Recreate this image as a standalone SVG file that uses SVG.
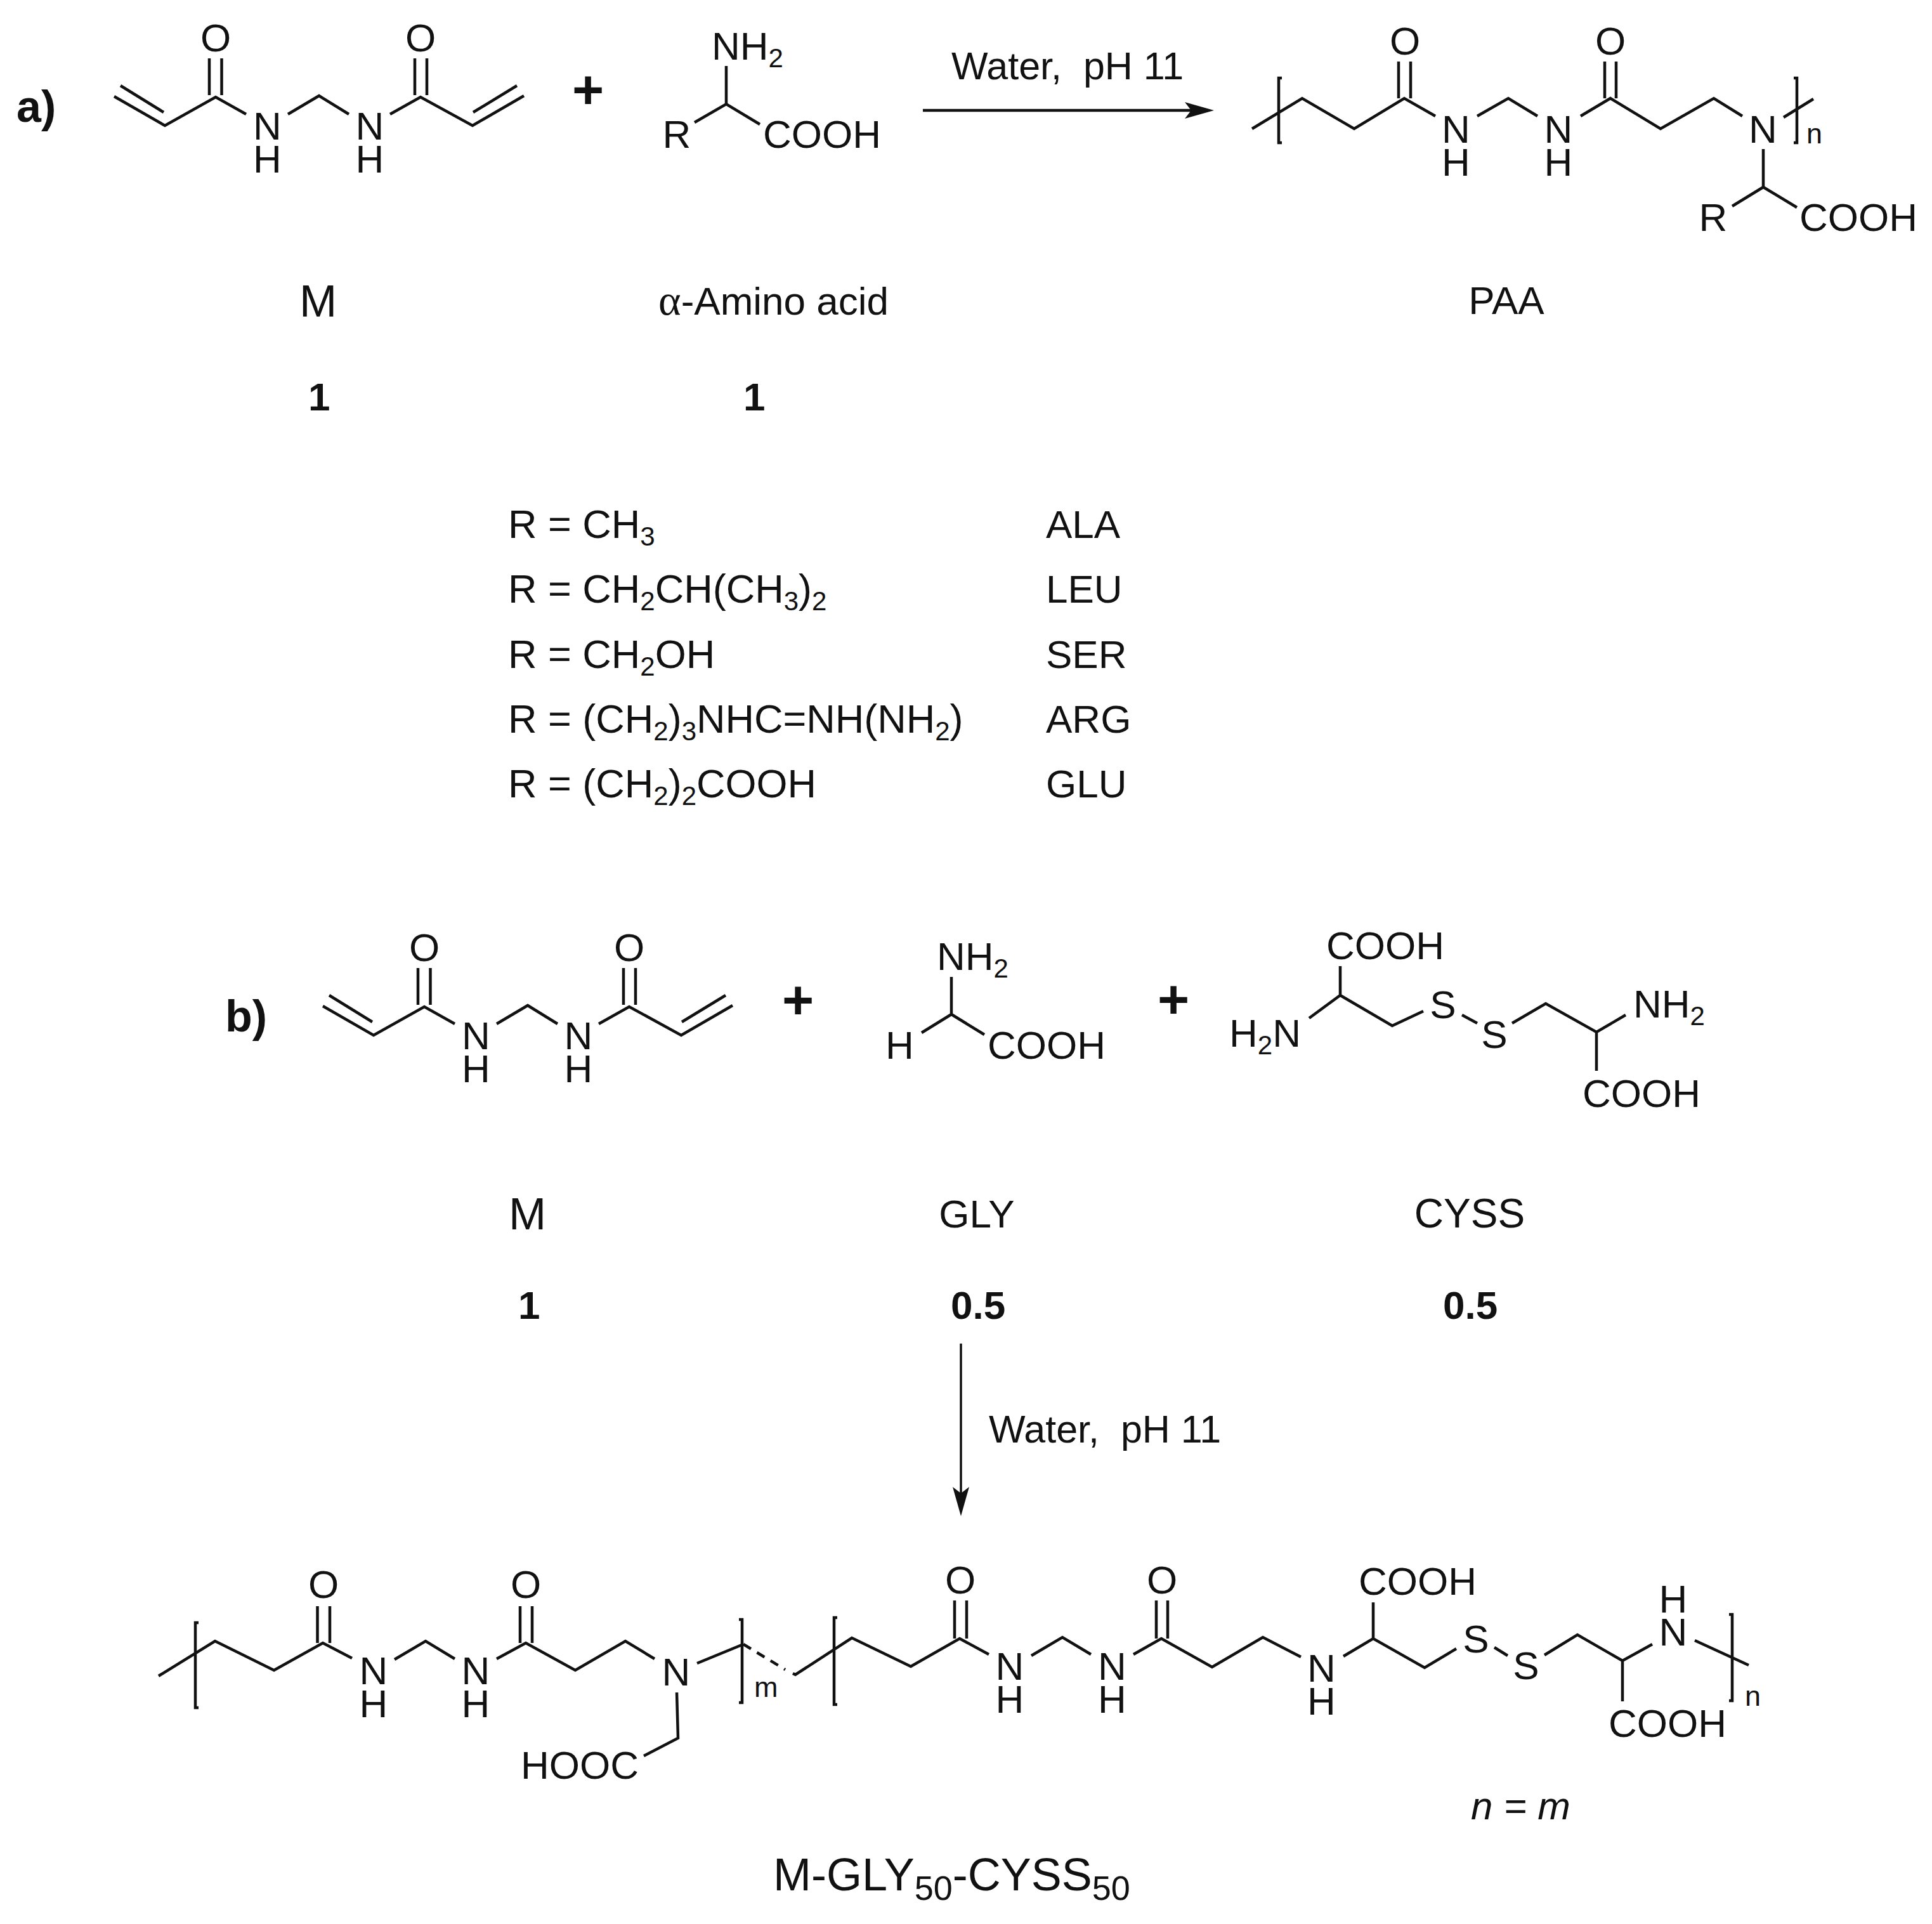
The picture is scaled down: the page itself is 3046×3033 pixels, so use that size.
<svg xmlns="http://www.w3.org/2000/svg" width="3046" height="3033" viewBox="0 0 3046 3033">
<style>
text{font-family:"Liberation Sans",Arial,sans-serif;font-size:62px;fill:#111}
.c{text-anchor:middle}
.b{font-weight:bold}
.lbl{font-weight:bold;font-size:70px}
.plus{font-weight:bold;font-size:86px;text-anchor:middle}
.lab{font-size:62px}
.cond{font-size:61px}
.big{font-size:71px}
.name{font-size:72px}
.ns{font-size:54px}
.t{font-size:63px}
.s{font-size:42px}
.idx{font-size:45px}
.bond{fill:none;stroke:#111;stroke-width:4.5;stroke-linejoin:miter;stroke-linecap:butt}
.arr{fill:none;stroke:#111;stroke-width:4.5}
</style>
<defs>
<marker id="head" markerUnits="userSpaceOnUse" markerWidth="60" markerHeight="32" viewBox="0 -16 60 32" refX="10" refY="0" orient="auto"><path d="M0,-13L10,0L0,13L46,0Z" fill="#111"/></marker>
</defs>
<rect width="3046" height="3033" fill="#fff"/>

<g id="connectors">
<path id="bonds-a-M" class="bond" d="M180,152L260,198L340,153L388,180M190,135L258,177M330,92V150M349.5,92V150M454,180L503,151L550,180M615,180L663,153L745,198L826,151M746,177L815,135M654,92V150M673,92V150"/>
<path id="bonds-a-amino" class="bond" d="M1145,104V164M1095,193L1145,164L1198,196"/>
<path id="bonds-a-paa" class="bond" d="M1974,203L2053,155L2135,203L2214,155L2263,183M2205,97V155M2224,97V155M2329,183L2378,155L2424,183M2492,183L2539,155L2618,203L2702,155L2747,183M2530,97V155M2548,97V155M2780,235V295M2731,325L2780,295L2833,327M2812,185L2859,156M2021,123H2016V225H2021M2828,123H2833V225H2828"/>
<path id="bonds-b-M" class="bond" transform="translate(329,1434)" d="M180,152L260,198L340,153L388,180M190,135L258,177M330,92V150M349.5,92V150M454,180L503,151L550,180M615,180L663,153L745,198L826,151M746,177L815,135M654,92V150M673,92V150"/>
<path id="bonds-b-gly" class="bond" d="M1500,1540V1599M1453,1628L1500,1599L1552,1631"/>
<path id="bonds-b-cyss" class="bond" d="M2113,1523V1569M2064,1605L2113,1569L2195,1617L2244,1594M2305,1600L2329,1613M2384,1613L2437,1582L2517,1627L2563,1600M2517,1627V1688"/>
<path id="bonds-product" class="bond" d="M250,2642L339,2587L432,2633L509,2590L555,2614M500.5,2532V2590M520,2532V2590M622,2616L671,2587L717,2615M783,2615L829,2590L907,2633L986,2587L1032,2615M820,2532V2590M839,2532V2590M1067,2668L1069,2740L1015,2768M1099,2622L1172,2592M1250,2638L1254,2640L1343,2582L1436,2627L1513,2583L1559,2608M1505,2523V2583M1524,2523V2583M1626,2610L1675,2581L1720,2608M1787,2608L1831,2583L1911,2628L1991,2581L2051,2612M1823,2523V2583M1841,2523V2583M2118,2611L2165,2583L2246,2629L2296,2599M2165,2526V2583M2356,2597L2377,2610M2435,2609L2487,2577L2558,2618L2605,2592M2558,2618V2682M2672,2586L2757,2625M313,2558H308V2692H313M1165,2553H1170V2684H1165M1320,2550H1315V2687H1320M2726,2545H2731V2681H2726"/>
<path id="bond-dashed" class="bond" stroke-dasharray="14 11" d="M1172,2592L1238,2632"/>
<path id="arrow-a" class="arr" marker-end="url(#head)" d="M1455,174H1878"/>
<path id="arrow-b" class="arr" style="stroke-width:3.5" marker-end="url(#head)" d="M1515,2118V2354"/>
</g>

<g id="label-a"><text class="lbl" x="26" y="192">a)</text></g>
<g id="mol-a-M">
<text class="c" x="340" y="81">O</text><text class="c" x="663" y="81">O</text>
<text class="c" x="421.5" y="220">N</text><text class="c" x="421.5" y="272">H</text>
<text class="c" x="583" y="220">N</text><text class="c" x="583" y="272">H</text>
</g>
<g id="plus-a"><text class="plus" x="927" y="171">+</text></g>
<g id="mol-a-amino">
<text x="1122" y="94">NH<tspan class="s" dy="12">2</tspan></text>
<text class="c" x="1067" y="233">R</text>
<text x="1203" y="233">COOH</text>
</g>
<g id="cond-a"><text class="cond" x="1500" y="125" xml:space="preserve">Water,  pH 11</text></g>
<g id="mol-a-paa">
<text class="c" x="2215" y="86">O</text><text class="c" x="2539" y="86">O</text>
<text class="c" x="2295.5" y="225">N</text><text class="c" x="2295.5" y="277">H</text>
<text class="c" x="2457" y="225">N</text><text class="c" x="2457" y="277">H</text>
<text class="c" x="2779.5" y="225">N</text>
<text class="idx" x="2848" y="226">n</text>
<text class="c" x="2701" y="364">R</text>
<text x="2837" y="364">COOH</text>
</g>
<g id="names-a">
<text class="c big" x="501.5" y="499">M</text>
<text x="1038" y="496"><tspan style="font-family:'Liberation Serif',serif;font-size:68px">α</tspan>-Amino acid</text>
<text class="c lab" x="2375" y="495">PAA</text>
<text class="b" x="486" y="647">1</text>
<text class="b" x="1172" y="647">1</text>
</g>
<g id="table">
<text class="t" x="801" y="848">R = CH<tspan class="s" dy="12">3</tspan></text>
<text class="t" x="801" y="950">R = CH<tspan class="s" dy="12">2</tspan><tspan dy="-12">CH(CH</tspan><tspan class="s" dy="12">3</tspan><tspan dy="-12">)</tspan><tspan class="s" dy="12">2</tspan></text>
<text class="t" x="801" y="1053">R = CH<tspan class="s" dy="12">2</tspan><tspan dy="-12">OH</tspan></text>
<text class="t" x="801" y="1155">R = (CH<tspan class="s" dy="12">2</tspan><tspan dy="-12">)</tspan><tspan class="s" dy="12">3</tspan><tspan dy="-12">NHC=NH(NH</tspan><tspan class="s" dy="12">2</tspan><tspan dy="-12">)</tspan></text>
<text class="t" x="801" y="1257">R = (CH<tspan class="s" dy="12">2</tspan><tspan dy="-12">)</tspan><tspan class="s" dy="12">2</tspan><tspan dy="-12">COOH</tspan></text>
<text x="1649" y="848">ALA</text>
<text x="1649" y="950">LEU</text>
<text x="1649" y="1053">SER</text>
<text x="1649" y="1155">ARG</text>
<text x="1649" y="1257">GLU</text>
</g>

<g id="label-b"><text class="lbl" x="355" y="1626">b)</text></g>
<g id="mol-b-M">
<text class="c" x="669" y="1515">O</text><text class="c" x="992" y="1515">O</text>
<text class="c" x="750.5" y="1654">N</text><text class="c" x="750.5" y="1706">H</text>
<text class="c" x="912" y="1654">N</text><text class="c" x="912" y="1706">H</text>
</g>
<g id="plus-b1"><text class="plus" x="1258" y="1606">+</text></g>
<g id="mol-b-gly">
<text x="1477" y="1529">NH<tspan class="s" dy="12">2</tspan></text>
<text class="c" x="1418.5" y="1669">H</text>
<text x="1557" y="1669">COOH</text>
</g>
<g id="plus-b2"><text class="plus" x="1850" y="1605">+</text></g>
<g id="mol-b-cyss">
<text x="2091" y="1512">COOH</text>
<text x="1938" y="1650">H<tspan class="s" dy="12">2</tspan><tspan dy="-12">N</tspan></text>
<text class="c" x="2275" y="1605">S</text>
<text class="c" x="2356" y="1652">S</text>
<text x="2575" y="1604">NH<tspan class="s" dy="12">2</tspan></text>
<text x="2495" y="1745">COOH</text>
</g>
<g id="names-b">
<text class="c big" x="831.5" y="1938">M</text>
<text class="c lab" x="1540" y="1935">GLY</text>
<text class="c" x="2317" y="1935" style="font-size:64px">CYSS</text>
<text class="b" x="817" y="2079">1</text>
<text class="b" x="1499" y="2079">0.5</text>
<text class="b" x="2275" y="2079">0.5</text>
</g>
<g id="cond-b"><text class="cond" x="1559" y="2274" xml:space="preserve">Water,  pH 11</text></g>
<g id="mol-product">
<text class="c" x="510" y="2519">O</text><text class="c" x="829" y="2519">O</text>
<text class="c" x="589" y="2655">N</text><text class="c" x="589" y="2707">H</text>
<text class="c" x="750" y="2655">N</text><text class="c" x="750" y="2707">H</text>
<text class="c" x="1066" y="2657">N</text>
<text x="821" y="2804">HOOC</text>
<text class="idx" x="1189" y="2675">m</text>
<text class="c" x="1514" y="2512">O</text><text class="c" x="1832" y="2512">O</text>
<text class="c" x="1592" y="2648">N</text><text class="c" x="1592" y="2700">H</text>
<text class="c" x="1753.5" y="2648">N</text><text class="c" x="1753.5" y="2700">H</text>
<text class="c" x="2083.5" y="2651">N</text><text class="c" x="2083.5" y="2703">H</text>
<text x="2142" y="2514">COOH</text>
<text class="c" x="2327" y="2605">S</text>
<text class="c" x="2406" y="2647">S</text>
<text class="c" x="2638" y="2594">N</text><text class="c" x="2638" y="2542">H</text>
<text x="2536" y="2738">COOH</text>
<text class="idx" x="2751" y="2689">n</text>
</g>
<g id="note"><text x="2319" y="2868" font-style="italic">n = m</text></g>
<g id="name-product"><text class="name" x="1219" y="2980">M-GLY<tspan class="ns" dy="15">50</tspan><tspan dy="-15">-CYSS</tspan><tspan class="ns" dy="15">50</tspan></text></g>
</svg>
